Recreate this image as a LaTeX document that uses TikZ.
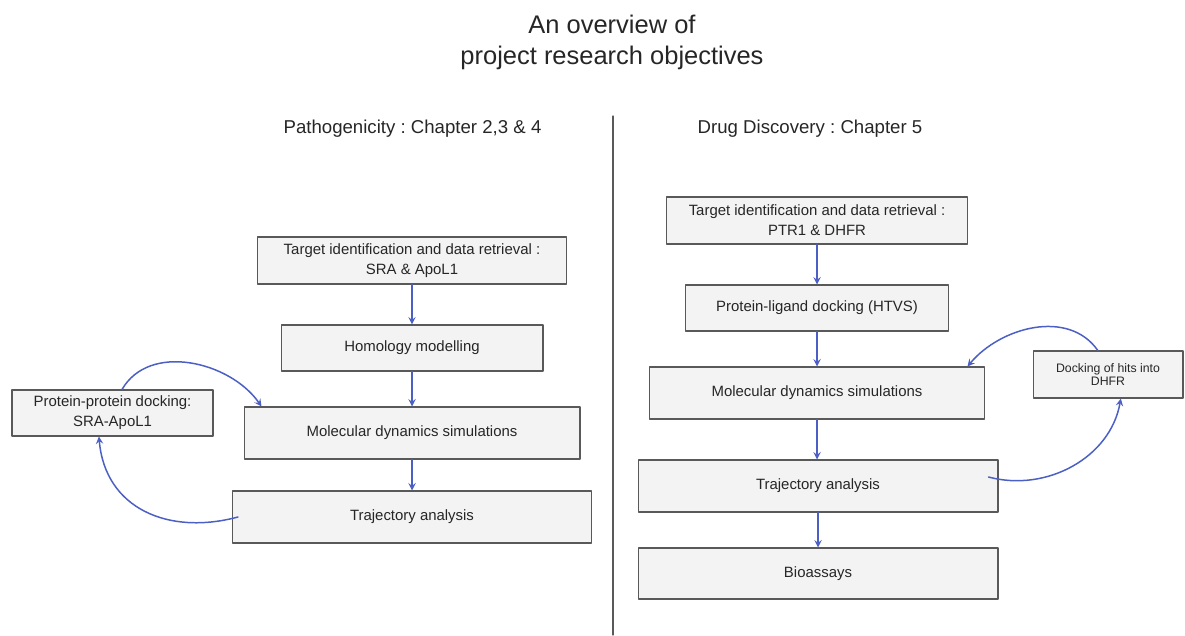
\documentclass[tikz,border=0pt]{standalone}
\usepackage{fontspec}
\setmainfont{Liberation Sans}
\frenchspacing
\definecolor{boxfill}{HTML}{F3F3F3}
\definecolor{boxline}{HTML}{595959}
\definecolor{flowblue}{HTML}{4B5FC4}
\definecolor{ink}{HTML}{262626}
\begin{document}
\begin{tikzpicture}[x=0.02cm, y=-0.02cm, line join=round, line cap=round, >=stealth,
	stage/.style={draw=boxline, fill=boxfill, line width=0.6pt, text=ink, align=center, inner sep=2pt, font=\fontsize{8.5}{11.3}\selectfont},
	flow/.style={->, draw=flowblue, line width=0.85pt},
	heading/.style={text=ink, anchor=base, inner sep=0pt}]
	\useasboundingbox (0,0) rectangle (1185,635);
	\path
	(613,116) coordinate (divtop)
	(613,635) coordinate (divbot);
	% titles
	\node[heading, font=\fontsize{14.5}{17}\selectfont] (title1) at (612,34) {An overview of};
	\node[heading, font=\fontsize{14.5}{17}\selectfont] (title2) at (612,65) {project research objectives};
	\node[heading, font=\fontsize{10.6}{12}\selectfont] (subL) at (412.5,133) {Pathogenicity : Chapter 2,3 \& 4};
	\node[heading, font=\fontsize{10.6}{12}\selectfont] (subR) at (810,133) {Drug Discovery : Chapter 5};
	\draw[boxline, line width=0.6pt] (divtop)--(divbot);
	% stages
	\foreach \n/\x/\y/\w/\h/\t in {
		tgtL/412/260.5/6.18/0.94/{Target identification and data retrieval :\\SRA \& ApoL1},
		homol/412/348/5.24/0.92/{Homology modelling},
		mdL/412/433/6.72/1.04/{Molecular dynamics simulations},
		trajL/412/517/7.18/1.04/{Trajectory analysis},
		ppd/112.5/413/4.02/0.92/{Protein-protein docking:\\SRA-ApoL1},
		tgtR/817/220.5/6.02/0.94/{Target identification and data retrieval :\\PTR1 \& DHFR},
		pld/817/308/5.26/0.92/{Protein-ligand docking (HTVS)},
		mdR/817/393/6.7/1.04/{Molecular dynamics simulations},
		trajR/818/486/7.2/1.04/{Trajectory analysis},
		bio/818/573.5/7.2/1.02/{Bioassays}}
	\node[stage, minimum width=\w cm, minimum height=\h cm] (\n) at (\x,\y) {\t};
	\node[stage, minimum width=3cm, minimum height=0.94cm, font=\fontsize{7}{7.8}\selectfont] (dock) at (1108,374.5) {Docking of hits into\\DHFR};
	% chains
	\foreach \a/\b in {tgtL/homol,homol/mdL,mdL/trajL,tgtR/pld,pld/mdR,mdR/trajR,trajR/bio}
	\draw[flow] (\a.south)--(\a.south |- \b.north);
	% loops
	\draw[flow] (ppd.68) to[out=60, in=125] (mdL.170);
	\draw[flow] ([xshift=0.12cm]trajL.west) to[out=195, in=-85, looseness=1.15] (ppd.240);
	\draw[flow] (dock.113) to[out=125, in=50] (mdR.10.5);
	\draw[flow] ([xshift=-0.2cm, yshift=0.18cm]trajR.east) to[out=-15, in=-100] (dock.298);
\end{tikzpicture}
\end{document}
